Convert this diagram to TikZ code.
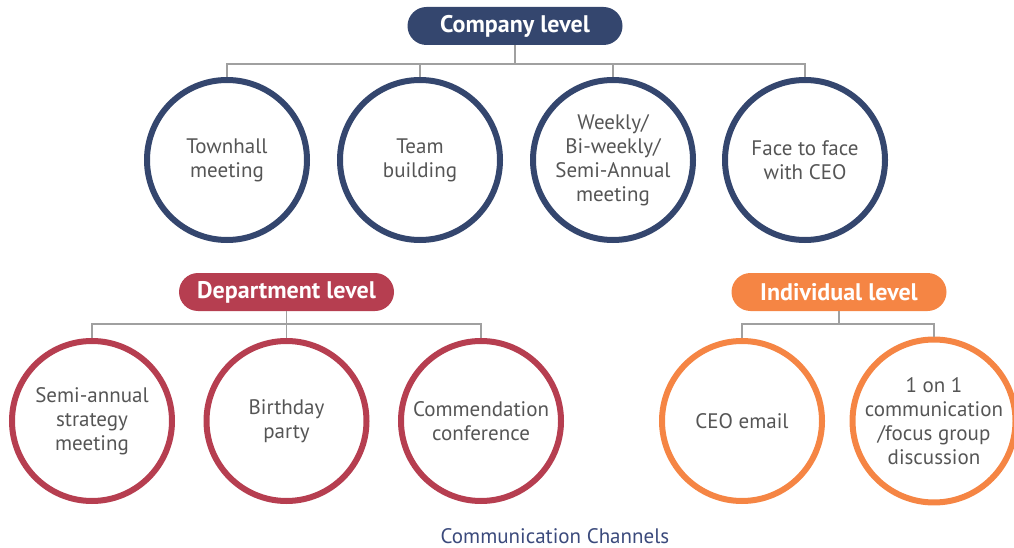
\documentclass[tikz,border=0pt]{standalone}
\usepackage{fontspec}
\setmainfont{PT Sans}
\usetikzlibrary{shapes.misc}
\definecolor{navy}{HTML}{34466E}
\definecolor{crim}{HTML}{B63E50}
\definecolor{orng}{HTML}{F58544}
\definecolor{lgray}{HTML}{A0A0A0}
\definecolor{tgray}{HTML}{555555}
\definecolor{capblue}{HTML}{3B4A7C}
\tikzset{
  pill/.style={rounded rectangle, fill=#1, text=white, minimum width=215pt, minimum height=38pt,
    font=\fontsize{24}{26}\selectfont\bfseries, inner sep=0pt},
  chan/.style={circle, draw=#1, line width=6pt, minimum size=160pt, inner sep=0pt, align=center,
    text=tgray, font=\fontsize{21}{24}\selectfont},
  conn/.style={draw=lgray, line width=1.2pt}
}
\begin{document}
\begin{tikzpicture}[x=1pt,y=-1pt]
\useasboundingbox (0,0) rectangle (1014,548);
% Company level
\node[pill=navy] (comp) at (515,26) {Company level};
\node[chan=navy] (c1) at (227,160) {Townhall\\meeting};
\node[chan=navy] (c2) at (420,160) {Team\\building};
\node[chan=navy] (c3) at (613,160) {Weekly/\\Bi-weekly/\\Semi-Annual\\meeting};
\node[chan=navy] (c4) at (805,160) {Face to face\\with CEO};
\coordinate (cb) at (515,64);
\draw[conn] (c1.north) |- (cb) -| (c4.north);
\draw[conn] (comp.south) -- (cb);
\draw[conn] (c2.north) -- (c2.north |- cb);
\draw[conn] (c3.north) -- (c3.north |- cb);
% Department level
\node[pill=crim] (dept) at (286.5,292) {Department level};
\node[chan=crim] (d1) at (92,421) {Semi-annual\\strategy\\meeting};
\node[chan=crim] (d2) at (286.5,421) {Birthday\\party};
\node[chan=crim] (d3) at (481,421) {Commendation\\conference};
\coordinate (db) at (286.5,324);
\draw[conn] (d1.north) |- (db) -| (d3.north);
\draw[conn] (dept.south) -- (d2.north);
% Individual level
\node[pill=orng] (ind) at (839,292) {Individual level};
\node[chan=orng] (i1) at (742,421) {CEO email};
\node[chan=orng] (i2) at (934,421) {1 on 1\\communication\\/focus group\\discussion};
\coordinate (ib) at (839,324);
\draw[conn] (i1.north) |- (ib) -| (i2.north);
\draw[conn] (ind.south) -- (ib);
% caption
\node[text=capblue, font=\fontsize{21}{24}\selectfont] (cap) at (555,536) {Communication Channels};
\end{tikzpicture}
\end{document}
